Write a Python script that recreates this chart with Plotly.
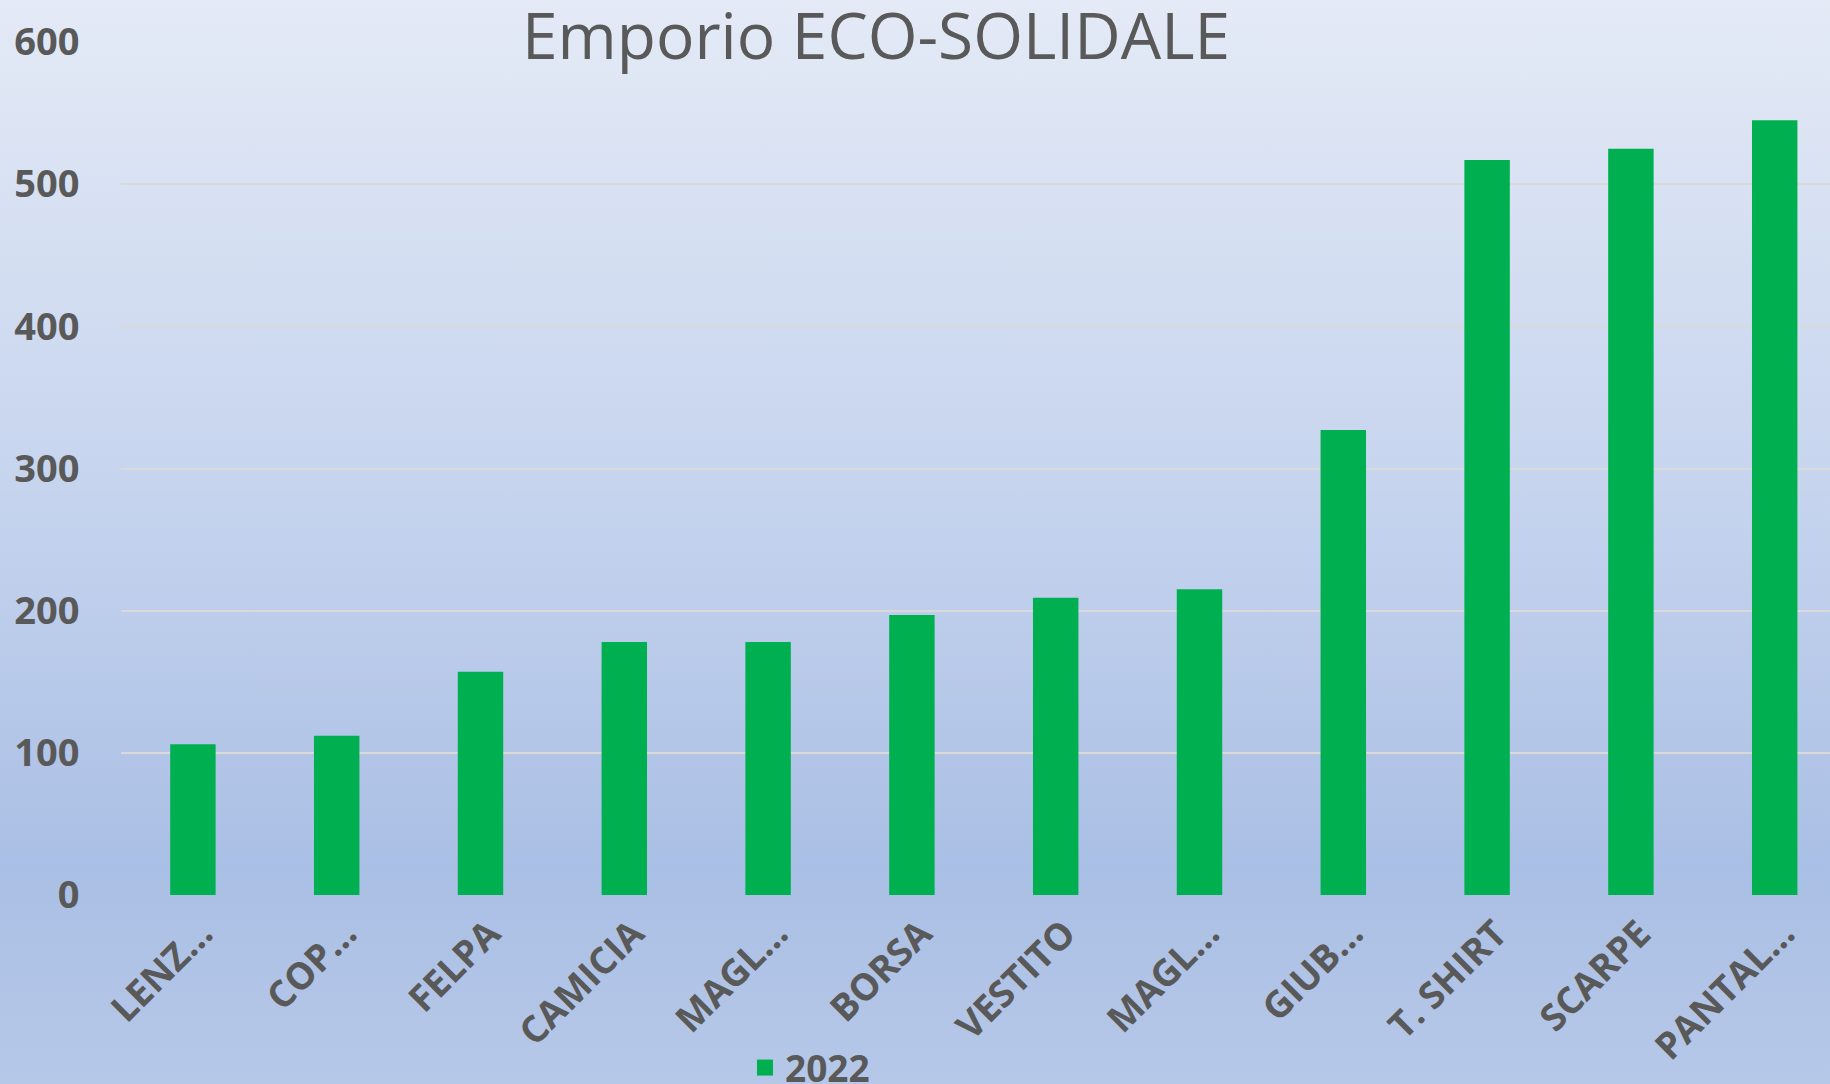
import base64
import plotly.graph_objects as go

# ---- data ----
categories = ["LENZ…", "COP…", "FELPA", "CAMICIA", "MAGL…", "BORSA",
              "VESTITO", "MAGL…", "GIUB…", "T. SHIRT", "SCARPE", "PANTAL…"]
values_2022 = [106, 112, 157, 178, 178, 197, 209, 215, 327, 517, 525, 545]
series_name = "2022"
y_ticks = [0, 100, 200, 300, 400, 500, 600]

W, H = 1830, 1084
L, R, T, B = 121, 0, 42, 189
plot_w = W - L - R
plot_h = H - T - B

GREEN = "#00B050"
TEXT = "#595959"
FONT = "Open Sans"

positions = list(range(len(categories)))

fig = go.Figure()
fig.add_trace(go.Bar(
    x=positions, y=values_2022, name=series_name,
    marker=dict(color=GREEN, line=dict(width=0)),
    width=0.316, showlegend=False,
))
# legend proxy (bigger square symbol than bar legend)
fig.add_trace(go.Scatter(
    x=[None], y=[None], mode="markers", name=series_name,
    marker=dict(symbol="square", size=24, color=GREEN),
    showlegend=True,
))

# gradient background as an SVG image
svg = (
    '<svg xmlns="http://www.w3.org/2000/svg" width="10" height="1084" preserveAspectRatio="none">'
    '<defs><linearGradient id="g" x1="0" y1="0" x2="0" y2="1">'
    '<stop offset="0" stop-color="#E4EAF6"/>'
    '<stop offset="0.45" stop-color="#C6D4EE"/>'
    '<stop offset="0.8" stop-color="#AABFE5"/>'
    '<stop offset="1" stop-color="#B6C8E8"/>'
    '</linearGradient></defs>'
    '<rect x="0" y="0" width="10" height="1084" fill="url(#g)"/></svg>'
)
svg_uri = "data:image/svg+xml;base64," + base64.b64encode(svg.encode()).decode()
fig.add_layout_image(dict(
    source=svg_uri, xref="paper", yref="paper",
    x=-L / plot_w, y=1 + T / plot_h,
    sizex=W / plot_w, sizey=H / plot_h,
    sizing="stretch", xanchor="left", yanchor="top", layer="below",
))

fig.update_layout(
    width=W, height=H,
    margin=dict(l=L, r=R, t=T, b=B, pad=0, autoexpand=False),
    paper_bgcolor="#B6C8E8",
    plot_bgcolor="rgba(0,0,0,0)",
    title=dict(
        text="Emporio ECO-SOLIDALE",
        font=dict(family=FONT, size=64, color=TEXT),
        x=876 / W, xanchor="center", xref="container",
        y=1 - 37 / H, yanchor="middle", yref="container",
    ),
    legend=dict(
        orientation="h", xref="container", yref="container",
        x=745 / W, xanchor="left", y=1 - 1037 / H, yanchor="top",
        font=dict(family=FONT, size=37, color=TEXT, weight="bold"),
        bgcolor="rgba(0,0,0,0)",
    ),
    xaxis=dict(
        tickvals=positions, ticktext=categories,
        range=[-0.5, -0.5 + plot_w / 143.8],
        tickangle=-45, showgrid=False, zeroline=False, showline=False,
        ticks="outside", ticklen=1, tickcolor="rgba(0,0,0,0)",
        ticklabelshift=9,
        tickfont=dict(family=FONT, size=37, color=TEXT, weight="bold"),
    ),
    yaxis=dict(
        range=[0, 600], tickvals=y_ticks,
        showgrid=True, gridcolor="#D9D9D9", gridwidth=2,
        zeroline=False, showline=False,
        ticks="outside", ticklen=33, tickcolor="rgba(0,0,0,0)",
        tickfont=dict(family=FONT, size=38, color=TEXT, weight="bold"),
    ),
    bargap=0.684,
)

fig.write_html(
    "out.html",
    config={"displayModeBar": False},
    post_script="document.body.style.margin='0';document.body.style.overflow='hidden';",
)
